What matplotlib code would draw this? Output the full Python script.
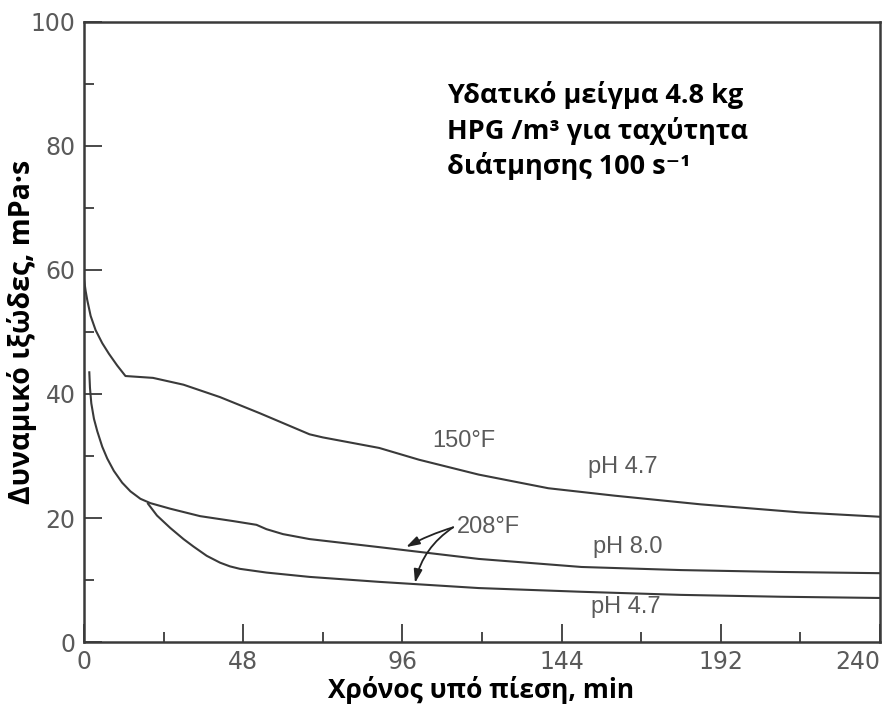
import numpy as np
import matplotlib.pyplot as plt
from matplotlib.ticker import MultipleLocator

# time under pressure (min) and apparent viscosity (mPa.s)
t_150_ph47 = [0, 0.5, 1, 2, 3.5, 5.5, 7.5, 10, 12.5, 20.8, 30, 41, 53, 68, 72, 89, 101, 119, 140, 160, 186, 216, 240]
v_150_ph47 = [58.5, 56.6, 55.1, 52.6, 50.3, 48.2, 46.5, 44.6, 42.9, 42.6, 41.5, 39.5, 36.9, 33.5, 33.0, 31.3, 29.4, 27.0, 24.8, 23.6, 22.2, 20.9, 20.2]

t_208_ph80 = [1.6, 1.8, 2.2, 3, 4, 5.5, 7, 9, 11.5, 14, 17, 20, 26, 35, 45, 52, 55, 60, 68, 89, 119, 150, 180, 210, 240]
v_208_ph80 = [43.5, 41.0, 38.5, 36.0, 34.0, 31.5, 29.6, 27.6, 25.7, 24.3, 23.1, 22.4, 21.5, 20.3, 19.5, 18.9, 18.2, 17.4, 16.6, 15.3, 13.4, 12.1, 11.6, 11.3, 11.1]

t_208_ph47 = [19.3, 22, 26, 30, 33, 37, 41, 44, 47, 55, 68, 89, 119, 150, 180, 210, 240]
v_208_ph47 = [22.3, 20.4, 18.4, 16.6, 15.4, 13.9, 12.8, 12.2, 11.8, 11.2, 10.5, 9.7, 8.7, 8.1, 7.6, 7.3, 7.1]

x_ticks = [0, 48, 96, 144, 192, 240]
y_ticks = [0, 20, 40, 60, 80, 100]

line_col = '#3a3a3a'
gray_txt = '#5a5a5a'
narrow = ['Liberation Sans Narrow', 'DejaVu Sans']
label_font = ['Open Sans', 'DejaVu Sans']

fig = plt.figure(figsize=(8.88, 7.11), dpi=100)
ax = fig.add_axes([84 / 888, 69 / 711, 796 / 888, 620 / 711])

for t, v in [(t_150_ph47, v_150_ph47), (t_208_ph80, v_208_ph80), (t_208_ph47, v_208_ph47)]:
    ax.plot(t, v, color=line_col, lw=1.5, solid_joinstyle='round')

ax.set_xlim(0, 240)
ax.set_ylim(0, 100)
ax.set_xticks(x_ticks)
ax.set_yticks(y_ticks)
ax.xaxis.set_minor_locator(MultipleLocator(24))
ax.yaxis.set_minor_locator(MultipleLocator(10))
ax.tick_params(which='major', direction='in', length=13, width=1.3, color=line_col,
               labelsize=17, labelcolor=gray_txt, pad=6)
ax.tick_params(which='minor', direction='in', length=7, width=1.3, color=line_col)
for lab in ax.get_xticklabels() + ax.get_yticklabels():
    lab.set_family(narrow)
ax.get_xticklabels()[-1].set_horizontalalignment('right')
for s in ax.spines.values():
    s.set_color(line_col)
    s.set_linewidth(1.8)

fig.text(481 / 888, 1 - 690 / 711, 'Χρόνος υπό πίεση, min', family=label_font,
         fontweight='bold', fontsize=19, ha='center', va='center')
fig.text(22 / 888, 1 - 332 / 711, 'Δυναμικό ιξώδες, mPa·s', family=label_font,
         fontweight='bold', fontsize=20.5, ha='center', va='center', rotation=90)

# curve labels
curve_kw = dict(family=['Liberation Sans', 'DejaVu Sans'], fontsize=17, color=gray_txt, va='center')
ax.text(104.9, 32.4, '150°F', **curve_kw)
ax.text(152.0, 28.2, 'pH 4.7', **curve_kw)
ax.text(112.5, 18.5, '208°F', **curve_kw)
ax.text(153.5, 15.3, 'pH 8.0', **curve_kw)
ax.text(152.8, 5.6, 'pH 4.7', **curve_kw)

arrow_kw = dict(arrowstyle='-|>,head_length=0.8,head_width=0.25', color='#222222', lw=1.3,
                shrinkA=0, shrinkB=0)
ax.annotate('', xy=(97.1, 15.3), xytext=(111.3, 18.5),
            arrowprops=dict(connectionstyle='arc3,rad=0.05', **arrow_kw))
ax.annotate('', xy=(99.8, 9.5), xytext=(111.3, 18.5),
            arrowprops=dict(connectionstyle='arc3,rad=0.2', **arrow_kw))

# description block
desc_kw = dict(transform=ax.transAxes, family=label_font, fontweight='bold', fontsize=19.5, va='center')
ax.text(0.456, 0.882, 'Υδατικό μείγμα 4.8 kg', **desc_kw)
ax.text(0.456, 0.824, 'HPG /m³ για ταχύτητα', **desc_kw)
ax.text(0.456, 0.768, 'διάτμησης 100 s⁻¹', **desc_kw)

fig.savefig('out.png', dpi=100)
